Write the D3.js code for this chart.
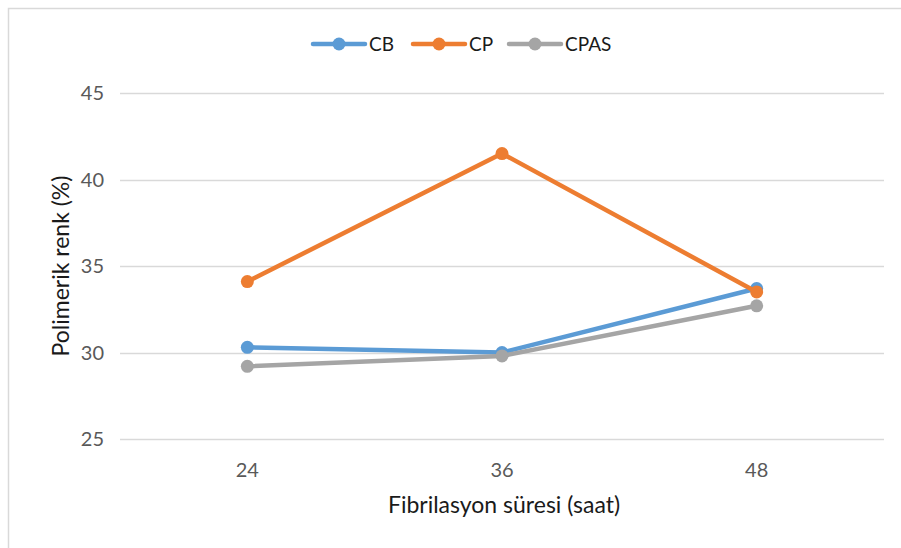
<!DOCTYPE html>
<html>
<head>
<meta charset="utf-8">
<script src="https://cdn.jsdelivr.net/npm/d3@7"></script>
<style>
  html, body { margin: 0; padding: 0; background: #fff; }
  svg { display: block; font-family: Lato, "Open Sans", "Liberation Sans", sans-serif; }
</style>
</head>
<body>
<svg id="chart" width="901" height="548"></svg>
<script>
// Fibrillation time (hours) on the x axis
const categories = ["24", "36", "48"];
// Polymeric colour (%) per sample
const seriesNames = ["CB", "CP", "CPAS"];
const cbValues = [30.3, 30.0, 33.7];
const cpValues = [34.1, 41.5, 33.5];
const cpasValues = [29.2, 29.8, 32.7];
const yTicks = [25, 30, 35, 40, 45];
const colors = ["#5B9BD5", "#ED7D31", "#A5A5A5"];

const series = [
  { name: seriesNames[0], values: cbValues, color: colors[0] },
  { name: seriesNames[1], values: cpValues, color: colors[1] },
  { name: seriesNames[2], values: cpasValues, color: colors[2] }
];

const svg = d3.select("#chart");
const W = 901, H = 548;

// outer chart frame
svg.append("rect")
  .attr("x", 8.5).attr("y", 8.5)
  .attr("width", W + 10).attr("height", H + 10)
  .attr("fill", "#fff").attr("stroke", "#D9D9D9").attr("stroke-width", 1.5);

const plot = { left: 120, right: 884, top: 93, bottom: 439 };

const x = d3.scaleBand().domain(categories).range([plot.left, plot.right]);
const y = d3.scaleLinear().domain([25, 45]).range([plot.bottom, plot.top]);

// horizontal gridlines
svg.append("g").selectAll("line").data(yTicks).join("line")
  .attr("x1", plot.left).attr("x2", plot.right)
  .attr("y1", d => Math.round(y(d)) + 0.5).attr("y2", d => Math.round(y(d)) + 0.5)
  .attr("stroke", "#D9D9D9").attr("stroke-width", 1.3);

// y tick labels
svg.append("g").selectAll("text").data(yTicks).join("text")
  .attr("x", 104).attr("y", d => y(d))
  .attr("dy", "0.35em")
  .attr("text-anchor", "end")
  .attr("font-size", 20).attr("fill", "#595959")
  .text(d => d);

// x tick labels
svg.append("g").selectAll("text").data(categories).join("text")
  .attr("x", d => x(d) + x.bandwidth() / 2).attr("y", 477)
  .attr("text-anchor", "middle")
  .attr("font-size", 20).attr("fill", "#595959")
  .text(d => d);

// axis titles
svg.append("text")
  .attr("x", (plot.left + plot.right) / 2 + 2).attr("y", 513)
  .attr("text-anchor", "middle").attr("font-size", 23).attr("fill", "#1a1a1a")
  .text("Fibrilasyon süresi (saat)");

svg.append("text")
  .attr("transform", `translate(69, ${(plot.top + plot.bottom) / 2}) rotate(-90)`)
  .attr("text-anchor", "middle").attr("font-size", 23).attr("fill", "#1a1a1a")
  .text("Polimerik renk (%)");

// series lines and markers
const line = d3.line()
  .x((d, i) => x(categories[i]) + x.bandwidth() / 2)
  .y(d => y(d));

const gSeries = svg.append("g").selectAll("g").data(series).join("g");
gSeries.append("path")
  .attr("d", d => line(d.values))
  .attr("fill", "none").attr("stroke", d => d.color)
  .attr("stroke-width", 4.5).attr("stroke-linejoin", "round").attr("stroke-linecap", "round");
gSeries.selectAll("circle").data(d => d.values.map((v, i) => ({ v, i, color: d.color }))).join("circle")
  .attr("cx", d => x(categories[d.i]) + x.bandwidth() / 2)
  .attr("cy", d => y(d.v))
  .attr("r", 6.5).attr("fill", d => d.color);

// legend
const legendX = [313, 413, 509];
const leg = svg.append("g").selectAll("g").data(series).join("g")
  .attr("transform", (d, i) => `translate(${legendX[i]}, 44)`);
leg.append("line")
  .attr("x1", 0).attr("x2", 52).attr("y1", 0).attr("y2", 0)
  .attr("stroke", d => d.color).attr("stroke-width", 4.5).attr("stroke-linecap", "round");
leg.append("circle").attr("cx", 26).attr("cy", 0).attr("r", 6.5).attr("fill", d => d.color);
leg.append("text")
  .attr("x", 56).attr("y", 0).attr("dy", "0.35em")
  .attr("font-size", 19).attr("fill", "#1a1a1a")
  .text(d => d.name);
</script>
</body>
</html>
